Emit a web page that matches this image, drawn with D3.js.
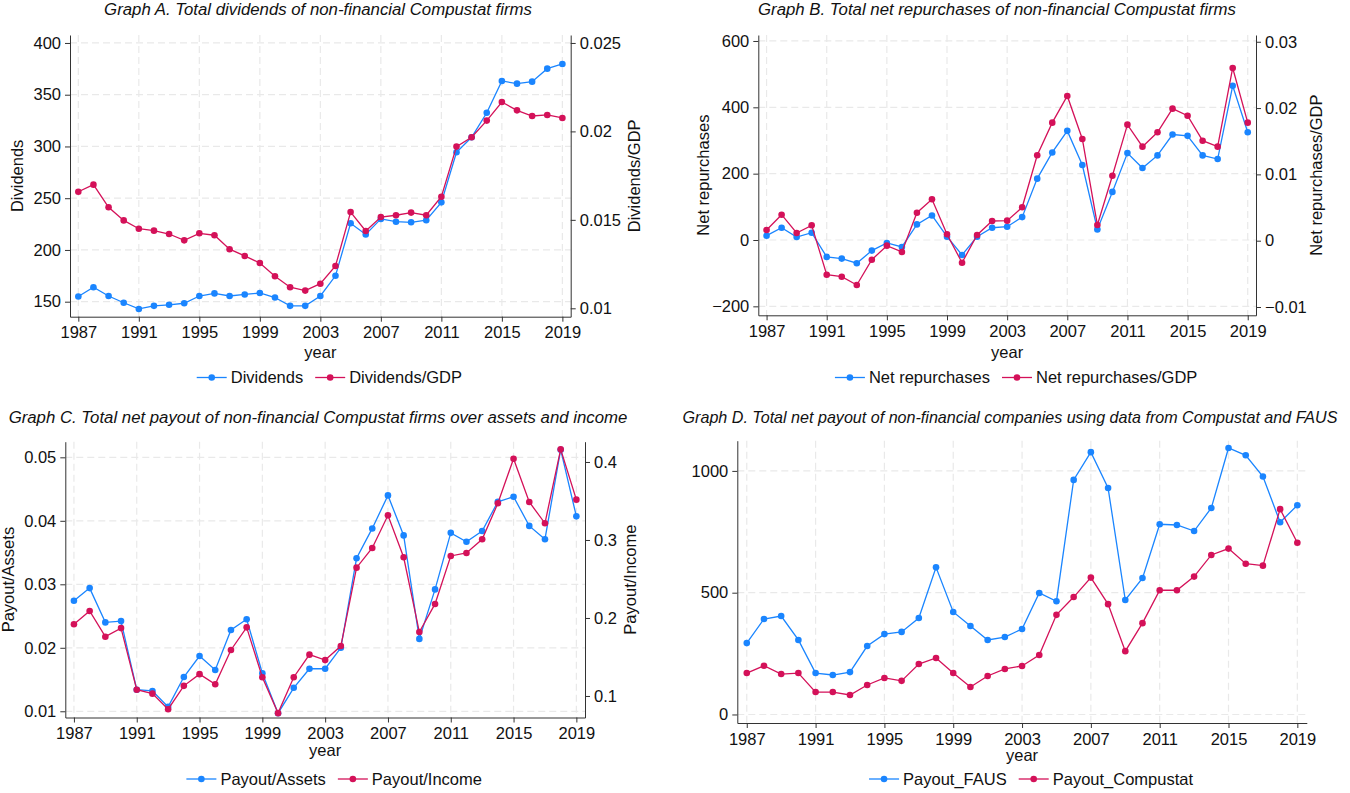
<!DOCTYPE html>
<html>
<head>
<meta charset="utf-8">
<script src="https://cdn.jsdelivr.net/npm/d3@7"></script>
<style>
body { margin: 0; background: #fff; }
svg { display: block; font-family: "Liberation Sans", Arial, Helvetica, sans-serif; }
</style>
</head>
<body>
<svg id="chart" width="1350" height="793"></svg>
<script>
// ---- data ----
var years = [1987, 1988, 1989, 1990, 1991, 1992, 1993, 1994, 1995, 1996,
	1997, 1998, 1999, 2000, 2001, 2002, 2003, 2004, 2005, 2006,
	2007, 2008, 2009, 2010, 2011, 2012, 2013, 2014, 2015, 2016,
	2017, 2018, 2019];

var dividends = [155, 164, 155.5, 149, 143, 146, 147, 148.5, 155.5, 158,
	155.5, 157, 158.4, 154, 146, 146, 155.5, 175, 225.8, 215,
	230, 227.3, 226.7, 228.7, 246, 294.4, 308.9, 332.6, 363.3, 360.7,
	362.6, 375.2, 379.7];
var dividendsGdp = [0.01659, 0.01699, 0.01571, 0.01497, 0.01450, 0.01439, 0.01420, 0.01384, 0.01424, 0.01413,
	0.01334, 0.01296, 0.01256, 0.01181, 0.01119, 0.01100, 0.01139, 0.01239, 0.01544, 0.01437,
	0.01516, 0.01526, 0.01541, 0.01526, 0.01631, 0.01914, 0.01967, 0.02061, 0.02166, 0.02119,
	0.02087, 0.02093, 0.02076];

var netRepurchases = [13, 37, 9, 22, -51, -56, -70, -32, -9, -21,
	47, 74, 10, -45, 10, 37, 40, 69, 185, 264,
	329, 226, 32, 145, 262, 217, 255, 318, 314, 255,
	244, 465, 325];
var netRepurchasesGdp = [0.00161, 0.00392, 0.00116, 0.00232, -0.00513, -0.00543, -0.00668, -0.00287, -0.00075, -0.0017,
	0.00422, 0.00624, 0.00097, -0.00332, 0.00086, 0.00297, 0.00302, 0.00504, 0.01288, 0.0178,
	0.02183, 0.01534, 0.00237, 0.0098, 0.0175, 0.01418, 0.01635, 0.01991, 0.01885, 0.01508,
	0.01418, 0.02605, 0.0178];

var payoutAssets = [0.0274, 0.0294, 0.0240, 0.0242, 0.0134, 0.0132, 0.0107, 0.0154, 0.0187, 0.0165,
	0.0228, 0.0245, 0.0160, 0.0097, 0.0137, 0.0167, 0.0167, 0.0200, 0.0341, 0.0388,
	0.0440, 0.0377, 0.0214, 0.0292, 0.0381, 0.0367, 0.0384, 0.0430, 0.0438, 0.0392,
	0.0371, 0.0512, 0.0407];
var payoutIncome = [0.192, 0.209, 0.176, 0.187, 0.108, 0.103, 0.083, 0.113, 0.128, 0.115,
	0.159, 0.188, 0.124, 0.078, 0.124, 0.153, 0.146, 0.164, 0.2645, 0.2897,
	0.3316, 0.2778, 0.182, 0.218, 0.2795, 0.2833, 0.3009, 0.347, 0.4042, 0.3487,
	0.3214, 0.4163, 0.3517];

var payoutFaus = [293, 392, 404, 306, 170, 162, 174, 281, 330, 339,
	396, 604, 421, 363, 306, 318, 351, 499, 465, 963,
	1077, 930, 470, 560, 781, 778, 753, 848, 1094, 1064,
	977, 789, 859];
var payoutCompustat = [170, 200, 166, 170, 92, 92, 80, 121, 150, 138,
	207, 232, 170, 113, 158, 187, 199, 244, 409, 482,
	562, 453, 260, 375, 510, 510, 566, 655, 681, 619,
	611, 843, 705];

// tick labels
var yearTicks = [1987, 1991, 1995, 1999, 2003, 2007, 2011, 2015, 2019];
var ticksA = [150, 200, 250, 300, 350, 400];
var ticksA2 = [0.01, 0.015, 0.02, 0.025];
var ticksB = [-200, 0, 200, 400, 600];
var ticksB2 = [-0.01, 0, 0.01, 0.02, 0.03];
var ticksC = [0.01, 0.02, 0.03, 0.04, 0.05];
var ticksC2 = [0.1, 0.2, 0.3, 0.4];
var ticksD = [0, 500, 1000];

/////////////////////////////////////////////////////////////////

var blue = "#1a85ff", red = "#d41159";
var axisColor = "#333", gridColor = "#e9e9e9";
var fontSize = "16.5px";
var svg = d3.select("#chart");

function fmt(v) {
	return String(+v.toFixed(4)).replace("-", "\u2212");
}

function styleAxis(sel) {
	sel.select(".domain").attr("stroke", axisColor);
	sel.selectAll(".tick line").attr("stroke", axisColor);
	sel.selectAll(".tick text").attr("fill", "#111").style("font-size", fontSize);
	sel.attr("font-family", null).attr("font-size", null);
}

function drawPanel(p) {
	var x = d3.scaleLinear().domain([1986.45, 2019.55]).range([p.left, p.right]);
	var y = d3.scaleLinear().domain(p.yDomain).range([p.bottom, p.top]);
	var y2 = p.y2Domain ? d3.scaleLinear().domain(p.y2Domain).range([p.bottom, p.top]) : y;

	var g = svg.append("g");

	// dashed grid
	g.append("g").selectAll("line").data(p.yTicks).enter().append("line")
		.attr("x1", p.left).attr("x2", p.right)
		.attr("y1", function(d) { return y(d); })
		.attr("y2", function(d) { return y(d); })
		.attr("stroke", gridColor).attr("stroke-width", 1.2).attr("stroke-dasharray", "7,4");
	g.append("g").selectAll("line").data(yearTicks).enter().append("line")
		.attr("y1", p.top).attr("y2", p.bottom)
		.attr("x1", function(d) { return x(d); })
		.attr("x2", function(d) { return x(d); })
		.attr("stroke", gridColor).attr("stroke-width", 1.2).attr("stroke-dasharray", "7,4");

	// axes
	g.append("g").attr("transform", "translate(" + p.left + ",0)")
		.call(d3.axisLeft(y).tickValues(p.yTicks).tickFormat(fmt).tickSize(5).tickPadding(4).tickSizeOuter(0))
		.call(styleAxis);
	if (p.y2Domain) {
		g.append("g").attr("transform", "translate(" + p.right + ",0)")
			.call(d3.axisRight(y2).tickValues(p.y2Ticks).tickFormat(fmt).tickSize(5).tickPadding(4).tickSizeOuter(0))
			.call(styleAxis);
	}
	g.append("g").attr("transform", "translate(0," + p.bottom + ")")
		.call(d3.axisBottom(x).tickValues(yearTicks).tickFormat(d3.format("d")).tickSize(5).tickPadding(5).tickSizeOuter(0))
		.call(styleAxis);

	// series
	p.series.forEach(function(s) {
		var sc = s.right ? y2 : y;
		var pts = years.map(function(yr, i) { return [x(yr), sc(s.values[i])]; });
		g.append("path")
			.attr("d", d3.line()(pts))
			.attr("fill", "none")
			.attr("stroke", s.color)
			.attr("stroke-width", 1.3);
		g.append("g").selectAll("circle").data(pts).enter().append("circle")
			.attr("cx", function(d) { return d[0]; })
			.attr("cy", function(d) { return d[1]; })
			.attr("r", 3.3)
			.attr("fill", s.color);
	});

	// titles
	g.append("text")
		.attr("x", p.titleX).attr("y", p.titleY)
		.attr("text-anchor", "middle")
		.style("font-style", "italic").style("font-size", p.titleSize || "16.8px").attr("fill", "#111")
		.text(p.title);
	var midY = (p.top + p.bottom) / 2;
	if (p.yTitle) {
		g.append("text")
			.attr("transform", "translate(" + p.yTitleX + "," + midY + ") rotate(-90)")
			.attr("text-anchor", "middle").style("font-size", fontSize).attr("fill", "#111")
			.text(p.yTitle);
	}
	if (p.y2Title) {
		g.append("text")
			.attr("transform", "translate(" + p.y2TitleX + "," + midY + ") rotate(-90)")
			.attr("text-anchor", "middle").style("font-size", fontSize).attr("fill", "#111")
			.text(p.y2Title);
	}
	g.append("text")
		.attr("x", p.xTitleX || (p.left + p.right) / 2).attr("y", p.xTitleY)
		.attr("text-anchor", "middle").style("font-size", fontSize).attr("fill", "#111")
		.text("year");

	// legend
	var leg = g.append("g");
	var cx = 0;
	p.series.forEach(function(s, i) {
		var item = leg.append("g").attr("transform", "translate(" + cx + ",0)");
		item.append("line").attr("x1", 0).attr("x2", 30).attr("y1", 0).attr("y2", 0)
			.attr("stroke", s.color).attr("stroke-width", 1.3);
		item.append("circle").attr("cx", 15).attr("cy", 0).attr("r", 3.3).attr("fill", s.color);
		var t = item.append("text").attr("x", 34).attr("y", 5.9)
			.style("font-size", fontSize).attr("fill", "#111").text(s.name);
		cx += 34 + t.node().getComputedTextLength() + 12;
	});
	var legW = cx - 12;
	leg.attr("transform", "translate(" + ((p.left + p.right) / 2 + 9 - legW / 2) + "," + p.legendY + ")");
}

drawPanel({
	left: 70, right: 570.7, top: 35, bottom: 316.7,
	yDomain: [135.5, 407.7], yTicks: ticksA,
	y2Domain: [0.009525, 0.02545], y2Ticks: ticksA2,
	title: "Graph A. Total dividends of non-financial Compustat firms", titleX: 318, titleY: 15,
	yTitle: "Dividends", yTitleX: 23, y2Title: "Dividends/GDP", y2TitleX: 640,
	xTitleY: 358, legendY: 377.5,
	series: [
		{ name: "Dividends", values: dividends, color: blue },
		{ name: "Dividends/GDP", values: dividendsGdp, color: red, right: true }
	]
});

drawPanel({
	left: 758.3, right: 1256, top: 35, bottom: 315.3,
	yDomain: [-227, 618], yTicks: ticksB,
	y2Domain: [-0.01125, 0.03102], y2Ticks: ticksB2,
	title: "Graph B. Total net repurchases of non-financial Compustat firms", titleX: 997, titleY: 15,
	yTitle: "Net repurchases", yTitleX: 709, y2Title: "Net repurchases/GDP", y2TitleX: 1322,
	xTitleY: 358, legendY: 377.5,
	series: [
		{ name: "Net repurchases", values: netRepurchases, color: blue },
		{ name: "Net repurchases/GDP", values: netRepurchasesGdp, color: red, right: true }
	]
});

drawPanel({
	left: 65.3, right: 585, top: 441.7, bottom: 717.5,
	yDomain: [0.00902, 0.05246], yTicks: ticksC,
	y2Domain: [0.0724, 0.426], y2Ticks: ticksC2,
	title: "Graph C. Total net payout of non-financial Compustat firms over assets and income", titleX: 318, titleY: 423.3,
	yTitle: "Payout/Assets", yTitleX: 14, y2Title: "Payout/Income", y2TitleX: 636,
	xTitleY: 756, legendY: 779,
	series: [
		{ name: "Payout/Assets", values: payoutAssets, color: blue },
		{ name: "Payout/Income", values: payoutIncome, color: red, right: true }
	]
});

drawPanel({
	left: 737.3, right: 1306.8, top: 440.7, bottom: 723,
	yDomain: [-35, 1124], yTicks: ticksD,
	title: "Graph D. Total net payout of non-financial companies using data from Compustat and FAUS", titleX: 1010, titleY: 423.3, titleSize: "16.1px",
	xTitleY: 761, legendY: 779,
	series: [
		{ name: "Payout_FAUS", values: payoutFaus, color: blue },
		{ name: "Payout_Compustat", values: payoutCompustat, color: red }
	]
});
</script>
</body>
</html>
